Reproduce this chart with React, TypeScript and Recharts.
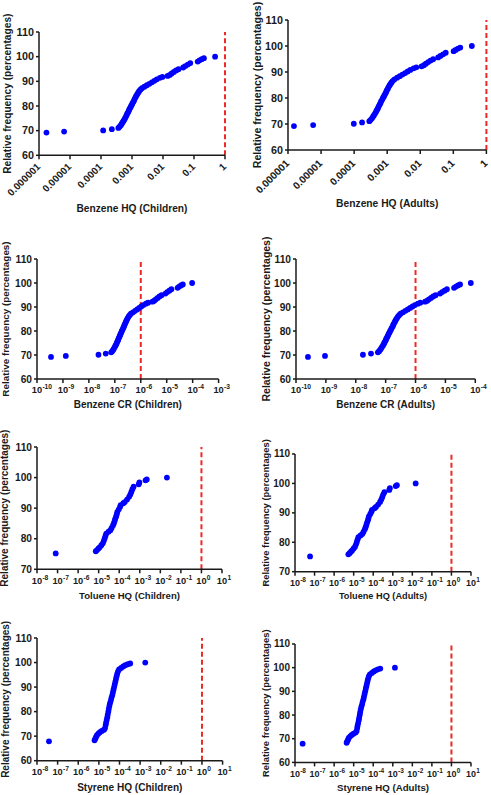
import React from 'react';
import { ScatterChart, Scatter, XAxis, YAxis, ReferenceLine, Label } from 'recharts';

const FONT = '"Liberation Sans", Arial, Helvetica, sans-serif';
const AXIS = '#1a1a1a';
const DOT = '#0000ff';
const RED = '#f02828';

// ---- Data (x stored as log10 of the exposure value, y as cumulative relative frequency %) ----
const benzeneFreq = [69.2, 69.6, 70.1, 70.6, 71.1, 71.6, 72.2, 72.8, 73.4, 74.0, 74.6, 75.2, 75.8, 76.4, 77.0, 77.6, 78.2, 78.8, 79.4, 80.0, 80.6, 81.2, 81.8, 82.4, 83.0, 83.6, 84.2, 84.8, 85.4, 86.0, 86.6, 87.2, 87.8, 88.4, 89.0, 89.6, 90.2, 90.8, 91.4, 91.8, 92.2, 92.6, 93.2, 93.8, 94.4, 94.9, 95.6, 96.2, 96.8, 97.4, 98.0, 98.5, 99.0, 99.4, 100];
const benzeneHQChildrenLogX = [-5.76, -5.19, -3.93, -3.65, -3.44, -3.40, -3.36, -3.33, -3.30, -3.27, -3.24, -3.22, -3.19, -3.17, -3.15, -3.12, -3.10, -3.08, -3.05, -3.03, -3.00, -2.98, -2.95, -2.93, -2.91, -2.88, -2.86, -2.83, -2.80, -2.77, -2.73, -2.68, -2.60, -2.52, -2.44, -2.36, -2.28, -2.20, -2.10, -2.02, -1.85, -1.78, -1.72, -1.65, -1.58, -1.50, -1.35, -1.28, -1.20, -1.12, -0.88, -0.82, -0.75, -0.68, -0.32];
const benzeneHQAdultsLogX = [-5.82, -5.24, -4.01, -3.76, -3.54, -3.50, -3.46, -3.43, -3.40, -3.37, -3.34, -3.32, -3.29, -3.27, -3.25, -3.22, -3.20, -3.18, -3.15, -3.13, -3.10, -3.08, -3.05, -3.03, -3.01, -2.98, -2.96, -2.93, -2.90, -2.87, -2.83, -2.78, -2.70, -2.62, -2.54, -2.46, -2.38, -2.30, -2.20, -2.12, -1.96, -1.89, -1.83, -1.76, -1.69, -1.61, -1.46, -1.39, -1.31, -1.23, -0.99, -0.93, -0.86, -0.79, -0.44];
const benzeneCRChildrenLogX = [-9.46, -8.89, -7.63, -7.35, -7.14, -7.10, -7.06, -7.03, -7.00, -6.97, -6.94, -6.92, -6.89, -6.87, -6.85, -6.82, -6.80, -6.78, -6.75, -6.73, -6.70, -6.68, -6.65, -6.63, -6.61, -6.58, -6.56, -6.53, -6.50, -6.47, -6.43, -6.38, -6.30, -6.22, -6.14, -6.06, -5.98, -5.90, -5.80, -5.72, -5.55, -5.48, -5.42, -5.35, -5.28, -5.20, -5.05, -4.98, -4.90, -4.82, -4.58, -4.52, -4.45, -4.38, -4.02];
const benzeneCRAdultsLogX = [-9.60, -9.03, -7.76, -7.49, -7.26, -7.22, -7.18, -7.15, -7.12, -7.09, -7.06, -7.04, -7.01, -6.99, -6.97, -6.94, -6.92, -6.90, -6.87, -6.85, -6.82, -6.80, -6.77, -6.75, -6.73, -6.70, -6.68, -6.65, -6.62, -6.59, -6.55, -6.50, -6.42, -6.34, -6.26, -6.18, -6.10, -6.02, -5.92, -5.84, -5.68, -5.61, -5.55, -5.48, -5.41, -5.33, -5.18, -5.11, -5.03, -4.95, -4.71, -4.65, -4.58, -4.51, -4.15];

const tolueneFreq = [75.2, 75.9, 76.3, 76.8, 77.2, 77.9, 78.5, 79.3, 80.1, 80.9, 81.7, 82.3, 82.8, 83.5, 84.4, 85.1, 85.9, 86.6, 87.3, 88.0, 88.8, 89.6, 90.4, 91.0, 91.6, 92.0, 92.8, 93.7, 94.5, 95.3, 96.2, 97.0, 97.8, 98.4, 99.1, 99.4, 100];
const tolueneHQChildrenLogX = [-7.09, -5.14, -5.08, -5.01, -4.95, -4.87, -4.80, -4.75, -4.71, -4.67, -4.63, -4.52, -4.43, -4.37, -4.30, -4.26, -4.22, -4.19, -4.15, -4.12, -4.09, -4.02, -3.96, -3.93, -3.80, -3.73, -3.62, -3.52, -3.46, -3.41, -3.36, -3.30, -3.05, -3.02, -2.72, -2.66, -1.68];
const tolueneHQAdultsLogX = [-7.23, -5.27, -5.21, -5.14, -5.08, -5.00, -4.93, -4.88, -4.84, -4.80, -4.76, -4.65, -4.56, -4.50, -4.43, -4.39, -4.35, -4.32, -4.28, -4.25, -4.22, -4.15, -4.09, -4.06, -3.93, -3.86, -3.75, -3.65, -3.59, -3.54, -3.49, -3.43, -3.18, -3.15, -2.85, -2.79, -1.83];

const styreneFreq = [67.9, 68.3, 68.9, 69.6, 70.3, 71.0, 71.6, 72.1, 72.6, 73.3, 74.5, 75.5, 76.6, 77.7, 78.8, 80.0, 81.1, 82.3, 83.4, 84.5, 85.6, 86.7, 87.8, 88.9, 90.0, 91.1, 92.2, 93.3, 94.4, 95.4, 96.4, 97.2, 97.8, 98.4, 98.9, 99.3, 99.6, 100];
const styreneHQChildrenLogX = [-7.42, -5.21, -5.18, -5.14, -5.10, -5.03, -4.95, -4.86, -4.75, -4.70, -4.67, -4.65, -4.62, -4.59, -4.57, -4.54, -4.52, -4.49, -4.46, -4.42, -4.39, -4.35, -4.32, -4.29, -4.26, -4.23, -4.20, -4.17, -4.14, -4.11, -4.07, -4.02, -3.92, -3.82, -3.72, -3.60, -3.48, -2.75];
const styreneHQAdultsLogX = [-7.61, -5.36, -5.33, -5.29, -5.25, -5.18, -5.10, -5.01, -4.90, -4.85, -4.82, -4.80, -4.77, -4.74, -4.72, -4.69, -4.67, -4.64, -4.61, -4.57, -4.54, -4.50, -4.47, -4.44, -4.41, -4.38, -4.35, -4.32, -4.29, -4.26, -4.22, -4.17, -4.07, -3.97, -3.87, -3.76, -3.64, -2.89];

// tick values
const hqBenzeneTicks = [1e-6, 1e-5, 1e-4, 1e-3, 1e-2, 1e-1, 1];
const crChildrenTicks = [1e-10, 1e-9, 1e-8, 1e-7, 1e-6, 1e-5, 1e-4, 1e-3];
const crAdultsTicks = [1e-10, 1e-9, 1e-8, 1e-7, 1e-6, 1e-5, 1e-4];
const hqWideTicks = [1e-8, 1e-7, 1e-6, 1e-5, 1e-4, 1e-3, 1e-2, 1e-1, 1, 10];
const freqTicks60 = [60, 70, 80, 90, 100, 110];
const freqTicks70 = [70, 80, 90, 100, 110];

const yTitle = 'Relative frequency (percentages)';

type Spec = {
  xTitle: string; logX: number[]; freq: number[]; xTicks: number[]; yTicks: number[]; refX: number;
  x0: number; x1: number; y0: number; y1: number;
  rotated: boolean; rotOffset: number; xTitleY: number; yTitleX: number;
  tickFont: number; yTickFont: number; xTitleFont: number; yTitleFont: number;
};

const specs: Spec[] = [
  { xTitle: 'Benzene HQ (Children)', logX: benzeneHQChildrenLogX, freq: benzeneFreq, xTicks: hqBenzeneTicks, yTicks: freqTicks60, refX: 1,
    x0: 39, x1: 225, y0: 31.7, y1: 155, rotated: true, rotOffset: 12, xTitleY: 208, yTitleX: 7.3, tickFont: 10, yTickFont: 10.8, xTitleFont: 10.2, yTitleFont: 10.2 },
  { xTitle: 'Benzene HQ (Adults)', logX: benzeneHQAdultsLogX, freq: benzeneFreq, xTicks: hqBenzeneTicks, yTicks: freqTicks60, refX: 1,
    x0: 288.3, x1: 486.7, y0: 20, y1: 150, rotated: true, rotOffset: 14, xTitleY: 203, yTitleX: 257.3, tickFont: 10.2, yTickFont: 10.8, xTitleFont: 10.3, yTitleFont: 10.6 },
  { xTitle: 'Benzene CR (Children)', logX: benzeneCRChildrenLogX, freq: benzeneFreq, xTicks: crChildrenTicks, yTicks: freqTicks60, refX: 1e-6,
    x0: 36.7, x1: 218.3, y0: 259.3, y1: 379.3, rotated: false, rotOffset: 0, xTitleY: 405, yTitleX: 5, tickFont: 9.3, yTickFont: 10.2, xTitleFont: 10, yTitleFont: 9.9 },
  { xTitle: 'Benzene CR (Adults)', logX: benzeneCRAdultsLogX, freq: benzeneFreq, xTicks: crAdultsTicks, yTicks: freqTicks60, refX: 1e-6,
    x0: 295.7, x1: 475, y0: 259, y1: 379, rotated: false, rotOffset: 0, xTitleY: 405, yTitleX: 265.7, tickFont: 9.3, yTickFont: 10.2, xTitleFont: 10, yTitleFont: 10.5 },
  { xTitle: 'Toluene HQ (Children)', logX: tolueneHQChildrenLogX, freq: tolueneFreq, xTicks: hqWideTicks, yTicks: freqTicks70, refX: 1,
    x0: 37.3, x1: 222.3, y0: 446.7, y1: 569, rotated: false, rotOffset: 0, xTitleY: 595, yTitleX: 5, tickFont: 9.3, yTickFont: 10.2, xTitleFont: 9.6, yTitleFont: 10 },
  { xTitle: 'Toluene HQ (Adults)', logX: tolueneHQAdultsLogX, freq: tolueneFreq, xTicks: hqWideTicks, yTicks: freqTicks70, refX: 1,
    x0: 295, x1: 471, y0: 454, y1: 571.7, rotated: false, rotOffset: 0, xTitleY: 596, yTitleX: 265.7, tickFont: 9, yTickFont: 10, xTitleFont: 9.2, yTitleFont: 9.4 },
  { xTitle: 'Styrene HQ (Children)', logX: styreneHQChildrenLogX, freq: styreneFreq, xTicks: hqWideTicks, yTicks: freqTicks60, refX: 1,
    x0: 36.7, x1: 222.3, y0: 638.3, y1: 761, rotated: false, rotOffset: 0, xTitleY: 787.7, yTitleX: 5, tickFont: 9.3, yTickFont: 10.2, xTitleFont: 10.1, yTitleFont: 10 },
  { xTitle: 'Styrene HQ (Adults)', logX: styreneHQAdultsLogX, freq: styreneFreq, xTicks: hqWideTicks, yTicks: freqTicks60, refX: 1,
    x0: 295, x1: 471, y0: 644.3, y1: 762.7, rotated: false, rotOffset: 0, xTitleY: 787.7, yTitleX: 265.7, tickFont: 9, yTickFont: 10, xTitleFont: 9.7, yTitleFont: 9.4 },
];

const ML = 60, MT = 40, MR = 22, XH = 60;

function Panel({ s }: { s: Spec }) {
  const plotW = s.x1 - s.x0;
  const plotH = s.y1 - s.y0;
  const W = plotW + ML + MR;
  const H = plotH + MT + XH;
  const left = s.x0 - ML;
  const top = s.y0 - MT;
  const bottomSvg = MT + plotH;
  const data = s.logX.map((lx, i) => ({ x: Math.pow(10, lx), y: s.freq[i] }));

  const textProps = { fontFamily: FONT, fontWeight: 700 as const, fill: AXIS };

  const renderXTick = (p: any) => {
    const v = p.payload.value as number;
    const e = Math.round(Math.log10(v));
    const x = p.x as number;
    if (s.rotated) {
      const label = e >= 0 ? String(Math.round(v)) : v.toFixed(-e);
      const ax = x + 2;
      const ay = bottomSvg + s.rotOffset;
      return (
        <text x={ax} y={ay} textAnchor="end" transform={`rotate(-45 ${ax} ${ay})`} fontSize={s.tickFont} {...textProps}>{label}</text>
      );
    }
    const by = bottomSvg + 14.5;
    return (
      <g>
        <text x={x} y={by} textAnchor="middle" fontSize={s.tickFont} {...textProps}>10</text>
        <text x={x + s.tickFont * 0.58} y={by - s.tickFont * 0.45} textAnchor="start" fontSize={s.tickFont * 0.72} {...textProps}>{String(e)}</text>
      </g>
    );
  };

  const renderYTick = (p: any) => (
    <text x={ML - 5} y={p.y} dy="0.35em" textAnchor="end" fontSize={s.yTickFont} {...textProps}>{p.payload.value}</text>
  );

  const xTitle = () => (
    <text x={ML + plotW / 2} y={s.xTitleY - top} dy="0.35em" textAnchor="middle" fontSize={s.xTitleFont} {...textProps}>{s.xTitle}</text>
  );
  const yCx = s.yTitleX - left;
  const yCy = MT + plotH / 2;
  const yTitleEl = () => (
    <text x={yCx} y={yCy} dy="0.35em" textAnchor="middle" transform={`rotate(-90 ${yCx} ${yCy})`} fontSize={s.yTitleFont} {...textProps}>{yTitle}</text>
  );

  return (
    <div style={{ position: 'absolute', left, top, width: W, height: H }}>
      <ScatterChart width={W} height={H} margin={{ top: MT, right: MR, bottom: 0, left: 0 }}>
        <XAxis
          type="number"
          dataKey="x"
          scale="log"
          domain={[s.xTicks[0], s.xTicks[s.xTicks.length - 1]]}
          ticks={s.xTicks}
          interval={0}
          allowDataOverflow
          height={XH}
          tickSize={4}
          axisLine={{ stroke: AXIS, strokeWidth: 1.5 }}
          tickLine={{ stroke: AXIS, strokeWidth: 1.5 }}
          tick={renderXTick}
        >
          <Label content={xTitle} />
        </XAxis>
        <YAxis
          type="number"
          dataKey="y"
          domain={[s.yTicks[0], s.yTicks[s.yTicks.length - 1]]}
          ticks={s.yTicks}
          interval={0}
          allowDataOverflow
          width={ML}
          tickSize={3}
          axisLine={{ stroke: AXIS, strokeWidth: 1.5 }}
          tickLine={{ stroke: AXIS, strokeWidth: 1.5 }}
          tick={renderYTick}
        >
          <Label content={yTitleEl} />
        </YAxis>
        <ReferenceLine x={s.refX} stroke={RED} strokeWidth={2} strokeDasharray="5 3" />
        <Scatter
          data={data}
          isAnimationActive={false}
          shape={(p: any) => <circle cx={p.cx} cy={p.cy} r={2.9} fill={DOT} />}
        />
      </ScatterChart>
    </div>
  );
}

export default function App() {
  return (
    <div style={{ position: 'absolute', left: 0, top: 0, width: 491, height: 795, overflow: 'hidden', background: '#fff' }}>
      {specs.map((s) => (
        <Panel key={s.xTitle} s={s} />
      ))}
    </div>
  );
}
